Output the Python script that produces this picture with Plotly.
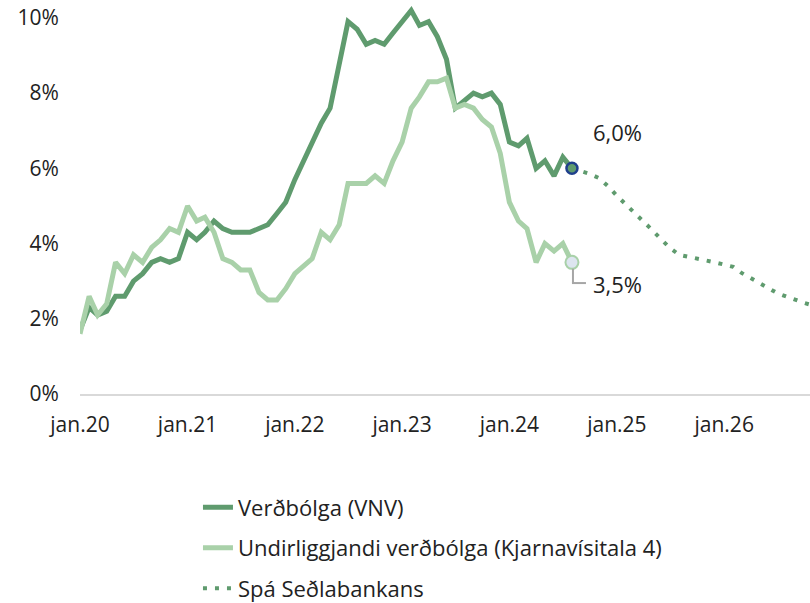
import plotly.graph_objects as go
import pandas as pd

# Monthly data, Jan 2020 - Aug 2024
vnv = [1.7, 2.3, 2.1, 2.2, 2.6, 2.6, 3.0, 3.2, 3.5, 3.6, 3.5, 3.6,
       4.3, 4.1, 4.3, 4.6, 4.4, 4.3, 4.3, 4.3, 4.4, 4.5, 4.8, 5.1,
       5.7, 6.2, 6.7, 7.2, 7.6, 8.8, 9.9, 9.7, 9.3, 9.4, 9.3, 9.6,
       9.9, 10.2, 9.8, 9.9, 9.5, 8.9, 7.6, 7.8, 8.0, 7.9, 8.0, 7.7,
       6.7, 6.6, 6.8, 6.0, 6.2, 5.8, 6.3, 6.0]
kjarna = [1.6, 2.6, 2.1, 2.4, 3.5, 3.2, 3.7, 3.5, 3.9, 4.1, 4.4, 4.3,
          5.0, 4.6, 4.7, 4.3, 3.6, 3.5, 3.3, 3.3, 2.7, 2.5, 2.5, 2.8,
          3.2, 3.4, 3.6, 4.3, 4.1, 4.5, 5.6, 5.6, 5.6, 5.8, 5.6, 6.2,
          6.7, 7.6, 7.9, 8.3, 8.3, 8.4, 7.6, 7.7, 7.6, 7.3, 7.1, 6.4,
          5.1, 4.6, 4.4, 3.5, 4.0, 3.8, 4.0, 3.5]
# Forecast Aug 2024 - Nov 2026
spa = [6.0, 5.93, 5.85, 5.74, 5.53, 5.27, 5.04, 4.82, 4.58, 4.36, 4.11, 3.88,
       3.70, 3.65, 3.62, 3.57, 3.50, 3.44, 3.38, 3.22, 3.08, 2.94, 2.80, 2.68,
       2.59, 2.49, 2.42, 2.35]

dates_hist = pd.date_range("2020-01-01", periods=len(vnv), freq="MS")
dates_fc = pd.date_range("2024-08-01", periods=len(spa), freq="MS")

tick_vals = pd.date_range("2020-01-01", "2026-01-01", freq="YS")
tick_text = ["jan.20", "jan.21", "jan.22", "jan.23", "jan.24", "jan.25", "jan.26"]
y_ticks = [0, 2, 4, 6, 8, 10]
y_text = ["0%", "2%", "4%", "6%", "8%", "10%"]

DARK = "#5f9b6e"
LIGHT = "#a9d1a9"
FONT = "Open Sans"
TXT = "#222222"

fig = go.Figure()
fig.add_trace(go.Scatter(x=dates_hist, y=vnv, mode="lines", name="Verðbólga (VNV)",
                         line=dict(color=DARK, width=5), legendgroup="a"))
fig.add_trace(go.Scatter(x=dates_hist, y=kjarna, mode="lines",
                         name="Undirliggjandi verðbólga (Kjarnavísitala 4)",
                         line=dict(color=LIGHT, width=5), legendgroup="b"))
fig.add_trace(go.Scatter(x=dates_fc, y=spa, mode="lines", name="Spá Seðlabankans",
                         line=dict(color=DARK, width=4, dash="4px,8px"), legendgroup="c"))
# end markers
fig.add_trace(go.Scatter(x=[dates_hist[-1]], y=[kjarna[-1]], mode="markers", showlegend=False,
                         marker=dict(size=13, color="#dde5f0", line=dict(color=LIGHT, width=2))))
fig.add_trace(go.Scatter(x=[dates_hist[-1]], y=[vnv[-1]], mode="markers", showlegend=False,
                         marker=dict(size=11, color=DARK, line=dict(color="#1f3f8c", width=2.5))))

fig.add_annotation(x=dates_hist[-1], y=vnv[-1], text="6,0%", showarrow=False,
                   xanchor="left", xshift=19, yshift=36, font=dict(size=22, color=TXT, family=FONT))
fig.add_annotation(x=dates_hist[-1], y=kjarna[-1], text="3,5%", showarrow=False,
                   xanchor="left", xshift=19, yshift=-22, font=dict(size=22, color=TXT, family=FONT))
# leader line for 3,5%
fig.add_shape(type="line", xref="x", yref="y", xsizemode="pixel", xanchor=dates_hist[-1],
              x0=1, x1=1, y0=3.33, y1=2.95, line=dict(color="#a6a6a6", width=2))
fig.add_shape(type="line", xref="x", yref="y", xsizemode="pixel", xanchor=dates_hist[-1],
              x0=0, x1=14, y0=2.95, y1=2.95, line=dict(color="#a6a6a6", width=2))

fig.update_layout(
    width=810, height=620,
    margin=dict(l=80, r=0, t=1, b=226),
    plot_bgcolor="white", paper_bgcolor="white",
    font=dict(family=FONT, size=21, color=TXT),
    showlegend=True,
    legend=dict(x=0.1616, y=-0.235, xanchor="left", yanchor="top",
                traceorder="grouped", tracegroupgap=9,
                font=dict(size=22, color=TXT, family=FONT)),
    xaxis=dict(range=["2020-01-01", "2026-10-20"], tickvals=tick_vals, ticktext=tick_text,
               showgrid=False, zeroline=False, showline=True, linecolor="#d9d9d9", linewidth=2,
               ticks="outside", ticklen=11, tickcolor="rgba(0,0,0,0)",
               tickfont=dict(size=21)),
    yaxis=dict(range=[0, 10.45], tickvals=y_ticks, ticktext=y_text, showgrid=False,
               zeroline=False, showline=False, ticks="outside", ticklen=16,
               tickcolor="rgba(0,0,0,0)", tickfont=dict(size=21), automargin=False),
)

fig.write_html("out.html", config={"displayModeBar": False},
               post_script="document.body.style.margin='0';document.body.style.padding='0';")
